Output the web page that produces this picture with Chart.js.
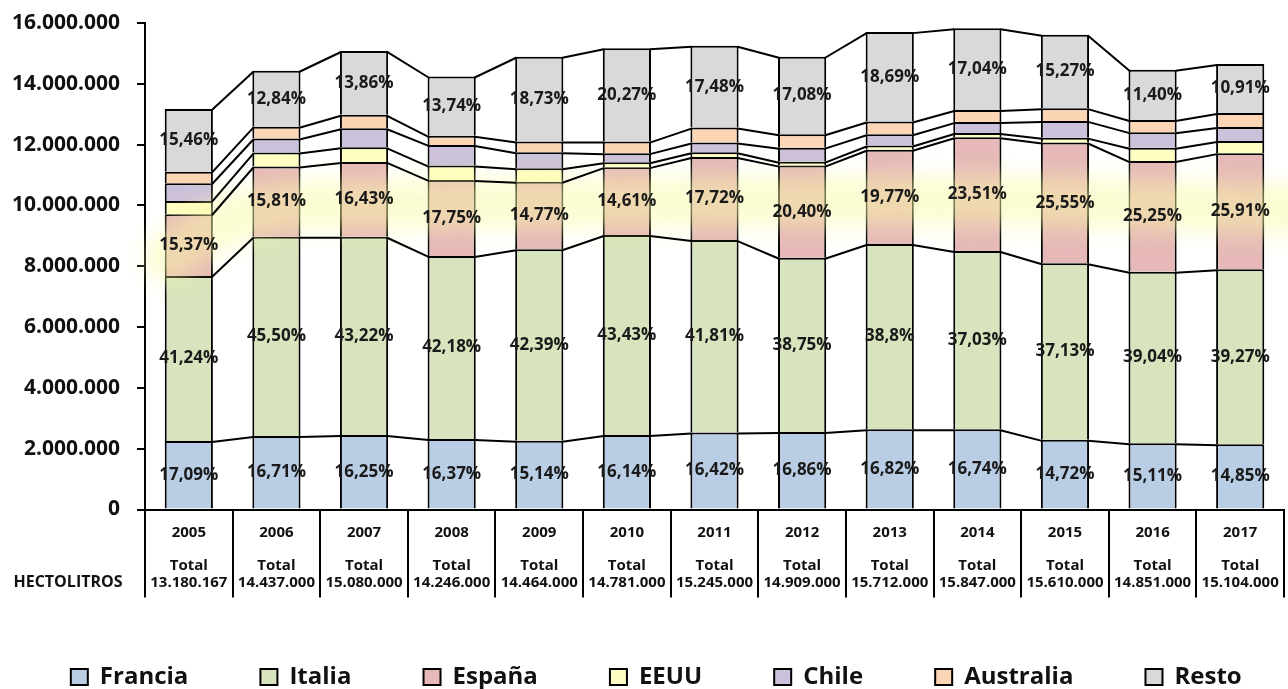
<!DOCTYPE html>
<html>
<head>
<meta charset="utf-8">
<script src="https://cdn.jsdelivr.net/npm/chart.js@4.4.1/dist/chart.umd.min.js"></script>
<style>
  html, body { margin: 0; padding: 0; background: #ffffff; }
  #wrap { width: 1288px; height: 689px; position: relative; }
</style>
</head>
<body>
<div id="wrap"><canvas id="c"></canvas></div>
<script>
// ---- data (hectolitros) ----
const years = ['2005','2006','2007','2008','2009','2010','2011','2012','2013','2014','2015','2016','2017'];
const totalLabels = ['13.180.167','14.437.000','15.080.000','14.246.000','14.464.000','14.781.000','15.245.000','14.909.000','15.712.000','15.847.000','15.610.000','14.851.000','15.104.000'];

const francia   = [2250000,2420000,2450000,2320000,2260000,2450000,2530000,2550000,2640000,2640000,2290000,2180000,2150000];
const italia    = [5430000,6550000,6520000,6020000,6300000,6580000,6330000,5730000,6090000,5860000,5810000,5640000,5750000];
const espana    = [2030000,2310000,2460000,2500000,2220000,2230000,2730000,3030000,3100000,3740000,3970000,3640000,3820000];
const eeuu      = [440000,460000,480000,470000,440000,160000,160000,130000,140000,140000,160000,440000,400000];
const chile     = [580000,460000,630000,680000,530000,300000,320000,460000,370000,360000,550000,510000,460000];
const australia = [380000,390000,440000,300000,350000,380000,490000,440000,420000,400000,420000,400000,460000];
const resto     = [2060000,1840000,2100000,1950000,2790000,3070000,2690000,2550000,2940000,2690000,2410000,1650000,1610000];

const pctFrancia = ['17,09%','16,71%','16,25%','16,37%','15,14%','16,14%','16,42%','16,86%','16,82%','16,74%','14,72%','15,11%','14,85%'];
const pctItalia  = ['41,24%','45,50%','43,22%','42,18%','42,39%','43,43%','41,81%','38,75%','38,8%','37,03%','37,13%','39,04%','39,27%'];
const pctEspana  = ['15,37%','15,81%','16,43%','17,75%','14,77%','14,61%','17,72%','20,40%','19,77%','23,51%','25,55%','25,25%','25,91%'];
const pctResto   = ['15,46%','12,84%','13,86%','13,74%','18,73%','20,27%','17,48%','17,08%','18,69%','17,04%','15,27%','11,40%','10,91%'];

const yTickStep = 2000000;
const yMax = 16000000;

const FONT = "'Open Sans', 'Liberation Sans', sans-serif";

function fmt(v) {
  return String(Math.round(v)).replace(/\B(?=(\d{3})+(?!\d))/g, '.');
}

function ds(label, data, color, pct) {
  return {
    label, data,
    backgroundColor: color,
    borderColor: '#000000',
    borderWidth: 2,
    barPercentage: 0.55,
    categoryPercentage: 1.0,
    pctLabels: pct
  };
}

const datasets = [
  ds('Francia', francia, '#b9cde5', pctFrancia),
  ds('Italia', italia, '#d7e4bd', pctItalia),
  ds('España', espana, '#e6b9b8', pctEspana),
  ds('EEUU', eeuu, '#ffffc3', null),
  ds('Chile', chile, '#ccc1da', null),
  ds('Australia', australia, '#fcd5b5', null),
  ds('Resto', resto, '#d9d9d9', pctResto)
];

const xLabels = years.map((y, i) => [y, '', 'Total', totalLabels[i]]);

// faint highlighter band (decoration of the original image)
const glowPlugin = {
  id: 'glow',
  afterDatasetsDraw(chart) {
    const ctx = chart.ctx;
    ctx.save();
    ctx.filter = 'blur(11px)';
    ctx.strokeStyle = 'rgba(250, 250, 165, 0.5)';
    ctx.lineWidth = 50;
    ctx.lineCap = 'round';
    ctx.beginPath();
    ctx.moveTo(170, 258);
    ctx.quadraticCurveTo(215, 212, 300, 205);
    ctx.lineTo(1000, 200);
    ctx.lineTo(1310, 210);
    ctx.stroke();
    ctx.restore();
  }
};

// series lines + labels
const seriesPlugin = {
  id: 'seriesLines',
  afterDatasetsDraw(chart) {
    const ctx = chart.ctx;
    ctx.save();
    ctx.strokeStyle = '#000';
    ctx.lineWidth = 2;
    chart.data.datasets.forEach((d, di) => {
      const meta = chart.getDatasetMeta(di);
      for (let i = 0; i < meta.data.length - 1; i++) {
        const a = meta.data[i].getProps(['x','y','width'], true);
        const b = meta.data[i+1].getProps(['x','y','width'], true);
        ctx.beginPath();
        ctx.moveTo(a.x + a.width/2 - 1, a.y + 1);
        ctx.lineTo(b.x - b.width/2 + 1, b.y + 1);
        ctx.stroke();
      }
    });
    ctx.fillStyle = '#1a1a1a';
    ctx.font = 'bold 17px ' + FONT;
    ctx.textAlign = 'center';
    ctx.textBaseline = 'middle';
    chart.data.datasets.forEach((d, di) => {
      if (!d.pctLabels) return;
      const meta = chart.getDatasetMeta(di);
      meta.data.forEach((el, i) => {
        const p = el.getProps(['x','y','base'], true);
        ctx.fillText(d.pctLabels[i], p.x, (p.y + p.base)/2);
      });
    });
    ctx.font = 'bold 16px ' + FONT;
    ctx.fillStyle = '#111';
    ctx.fillText('HECTOLITROS', 68, chart.chartArea.bottom + 73);
    ctx.restore();
  }
};

const LEGEND_GAP = '         \u2009';
const LEGEND_TAIL = '  ';

new Chart(document.getElementById('c'), {
  type: 'bar',
  data: { labels: xLabels, datasets },
  options: {
    responsive: true,
    maintainAspectRatio: false,
    animation: false,
    devicePixelRatio: 1,
    layout: { padding: { top: 23, left: 0, right: 4, bottom: -10 } },
    plugins: {
      legend: {
        position: 'bottom',
        labels: {
          font: { family: FONT, size: 24, weight: 'bold' },
          color: '#111',
          boxWidth: 17,
          boxHeight: 16,
          padding: 12,
          generateLabels(chart) {
            const base = Chart.defaults.plugins.legend.labels.generateLabels(chart);
            base.forEach((it, i) => { it.text = it.text + (i < base.length - 1 ? LEGEND_GAP : LEGEND_TAIL); });
            const spacer = {
              text: '', fillStyle: 'rgba(0,0,0,0)', strokeStyle: 'rgba(0,0,0,0)',
              lineWidth: 0, hidden: false, datasetIndex: -1
            };
            return [spacer].concat(base);
          }
        }
      },
      tooltip: { enabled: false }
    },
    scales: {
      x: {
        stacked: true,
        afterFit(scale) { scale.height = 143.5; },
        grid: {
          offset: true,
          drawOnChartArea: false,
          drawTicks: true,
          tickLength: 88,
          color: '#000',
          lineWidth: 2
        },
        border: { color: '#000', width: 2 },
        ticks: {
          autoSkip: false,
          maxRotation: 0,
          padding: -73,
          color: '#111',
          font: { family: FONT, size: 15, weight: 'bold', lineHeight: 1.1 }
        }
      },
      y: {
        stacked: true,
        min: 0,
        max: yMax,
        afterFit(scale) { scale.width = 145; },
        grid: {
          drawOnChartArea: false,
          drawTicks: true,
          tickLength: 8,
          color: '#000',
          lineWidth: 2
        },
        border: { color: '#000', width: 2 },
        ticks: {
          stepSize: yTickStep,
          padding: 17,
          color: '#111',
          font: { family: FONT, size: 21, weight: 'bold', lineHeight: 0.4 },
          callback: (v) => fmt(v)
        }
      }
    }
  },
  plugins: [glowPlugin, seriesPlugin]
});
</script>
</body>
</html>
